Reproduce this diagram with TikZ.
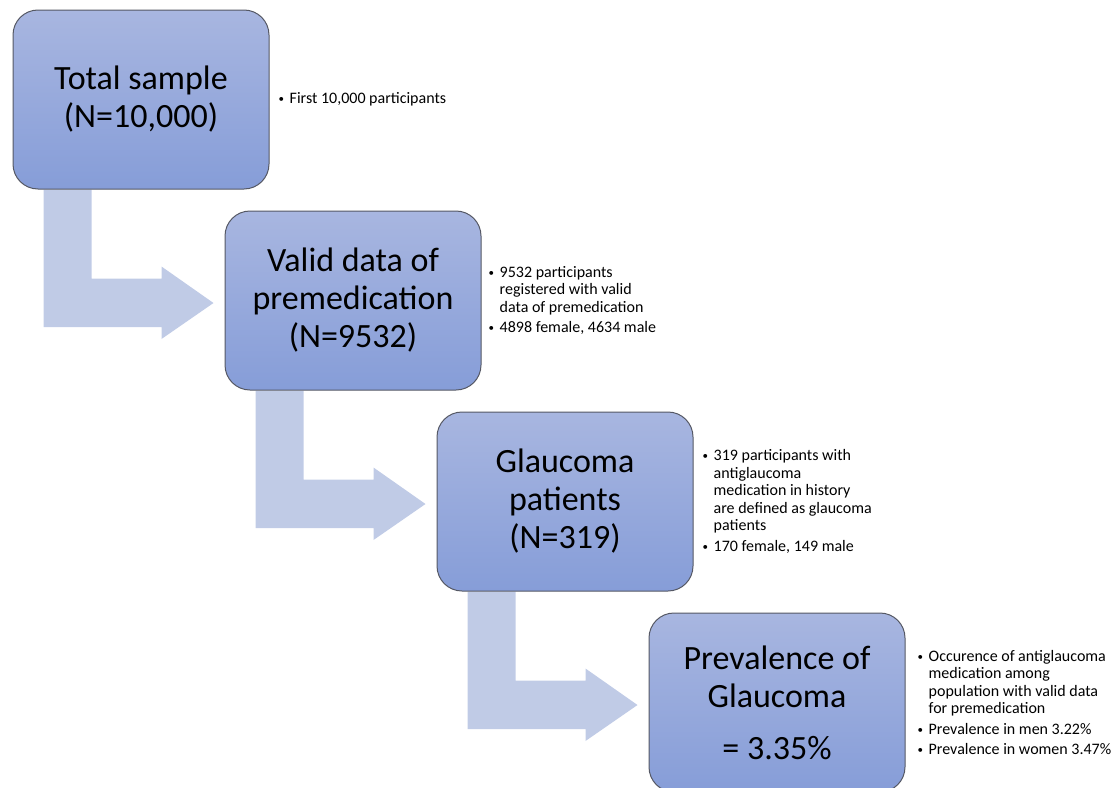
\documentclass[tikz,border=0pt]{standalone}
\usepackage{fontspec}
\setmainfont{Carlito}
\usetikzlibrary{positioning,calc,backgrounds}

\definecolor{boxtop}{RGB}{168,182,224}
\definecolor{boxbottom}{RGB}{134,157,216}
\definecolor{boxline}{RGB}{85,88,100}
\definecolor{flowfill}{RGB}{192,203,230}

\newcommand{\bul}{\makebox[11pt][l]{\raisebox{1.2pt}{\fontsize{11}{11}\selectfont\textbullet}}}
\newcommand{\ind}{\hspace*{11pt}}

\tikzset{
  stage/.style={rounded corners=25pt, draw=boxline, line width=1pt,
    top color=boxtop, bottom color=boxbottom,
    minimum width=256pt, minimum height=179pt, inner sep=0pt,
    align=center, font=\fontsize{34}{38}\selectfont},
  notes/.style={align=left, inner sep=0pt, font=\fontsize{16}{17.5}\selectfont},
  flowarrow/.style={fill=flowfill, draw=none}
}

\begin{document}
\begin{tikzpicture}[x=1pt, y=-1pt]

    \useasboundingbox (0,0) rectangle (1116,787);

    % stages
    \node[stage] at (141,99.5)  (total)    {Total sample\\(N=10,000)};
    \node[stage] at (353,300.5) (valid)    {Valid data of\\premedication\\(N=9532)};
    \node[stage] at (565,501.5) (glaucoma) {Glaucoma\\patients\\(N=319)};
    \node[stage] at (777,702.5) (prev)     {Prevalence of\\Glaucoma\\[14pt]= 3.35\%};

    % notes beside each stage
    \node[notes, right=9pt of total] (total_notes)
        {\bul First 10,000 participants};
    \node[notes, right=7pt of valid] (valid_notes)
        {\bul 9532 participants\\
         \ind registered with valid\\
         \ind data of premedication\\[3pt]
         \bul 4898 female, 4634 male};
    \node[notes, right=9pt of glaucoma] (glaucoma_notes)
        {\bul 319 participants with\\
         \ind antiglaucoma\\
         \ind medication in history\\
         \ind are defined as glaucoma\\
         \ind patients\\[3pt]
         \bul 170 female, 149 male};
    \node[notes, right=12pt of prev] (prev_notes)
        {\bul Occurence of antiglaucoma\\
         \ind medication among\\
         \ind population with valid data\\
         \ind for premedication\\[3pt]
         \bul Prevalence in men 3.22\%\\[3pt]
         \bul Prevalence in women 3.47\%};

    % bent arrows between stages
    \begin{pgfonlayer}{background}
    \foreach \a/\b in {total/valid, valid/glaucoma, glaucoma/prev} {
      \fill[flowarrow] ($(\a.south west)+(31,0)$) coordinate (bend_top)
        -- ++(48,0) |- ($(\b.west)+(-63,-22)$) -- ++(0,-12)
        -- ($(\b.west)+(-11,2.5)$)
        -- ($(\b.west)+(-63,38.5)$) -- ++(0,-12)
        -| (bend_top) -- cycle;
    }
    \end{pgfonlayer}

\end{tikzpicture}
\end{document}
